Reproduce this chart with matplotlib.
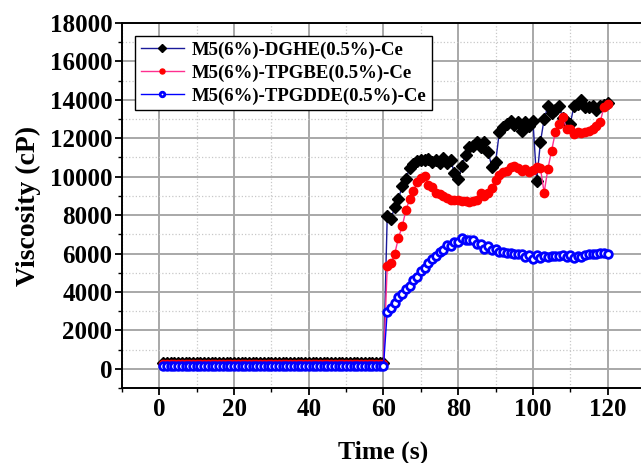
import matplotlib
matplotlib.use("Agg")
import matplotlib.pyplot as plt
from matplotlib.ticker import MultipleLocator

plt.rcParams['font.family'] = ['Liberation Serif', 'DejaVu Serif']
plt.rcParams['font.weight'] = 'bold'

# ---- data ----
time_s = list(range(1, 121))

labels = ["M5(6%)-DGHE(0.5%)-Ce", "M5(6%)-TPGBE(0.5%)-Ce", "M5(6%)-TPGDDE(0.5%)-Ce"]

dghe_flat = [300, 300, 300, 300, 300, 300, 300, 300, 300, 300,
             300, 300, 300, 300, 300, 300, 300, 300, 300, 300,
             300, 300, 300, 300, 300, 300, 300, 300, 300, 300,
             300, 300, 300, 300, 300, 300, 300, 300, 300, 300,
             300, 300, 300, 300, 300, 300, 300, 300, 300, 300,
             300, 300, 300, 300, 300, 300, 300, 300, 300, 300]
dghe_rise = [7950, 7780, 8420, 8830, 9520, 9870, 10450, 10650, 10800, 10860,
             10860, 10920, 10740, 10860, 10690, 10990, 10690, 10860, 10170, 9870,
             10570, 11150, 11530, 11620, 11790, 11530, 11790, 11300, 10520, 10740,
             12310, 12580, 12750, 12920, 12710, 12840, 12400, 12840, 12620, 12920,
             9790, 11790, 13000, 13660, 13310, 13480, 13660, 13060, 12840, 12750,
             13700, 13800, 14000, 13620, 13620, 13680, 13450, 13700, 13750, 13850]

tpgbe_flat = [250, 250, 250, 250, 250, 250, 250, 250, 250, 250,
              250, 250, 250, 250, 250, 250, 250, 250, 250, 250,
              250, 250, 250, 250, 250, 250, 250, 250, 250, 250,
              250, 250, 250, 250, 250, 250, 250, 250, 250, 250,
              250, 250, 250, 250, 250, 250, 250, 250, 250, 250,
              250, 250, 250, 250, 250, 250, 250, 250, 250, 250]
tpgbe_rise = [5340, 5510, 5980, 6820, 7410, 8250, 8830, 9260, 9700, 9920,
              10010, 9580, 9470, 9170, 9090, 9000, 8880, 8780, 8800, 8780,
              8740, 8720, 8670, 8720, 8780, 9170, 9000, 9170, 9400, 9820,
              10100, 10220, 10310, 10480, 10570, 10450, 10310, 10400, 10220, 10340,
              10520, 10450, 9170, 10400, 11360, 12310, 12750, 13130, 12490, 12490,
              12220, 12310, 12260, 12310, 12400, 12490, 12660, 12840, 13620, 13800]

tpgdde_flat = [150, 150, 150, 150, 150, 150, 150, 150, 150, 150,
               150, 150, 150, 150, 150, 150, 150, 150, 150, 150,
               150, 150, 150, 150, 150, 150, 150, 150, 150, 150,
               150, 150, 150, 150, 150, 150, 150, 150, 150, 150,
               150, 150, 150, 150, 150, 150, 150, 150, 150, 150,
               150, 150, 150, 150, 150, 150, 150, 150, 150, 150]
tpgdde_rise = [2980, 3190, 3450, 3720, 3900, 4170, 4330, 4600, 4780, 5080,
               5250, 5500, 5690, 5880, 6090, 6160, 6440, 6380, 6590, 6590,
               6790, 6700, 6700, 6680, 6510, 6470, 6260, 6380, 6160, 6260,
               6070, 6070, 6020, 6020, 5980, 5980, 5950, 5840, 5910, 5740,
               5910, 5760, 5860, 5840, 5880, 5860, 5860, 5910, 5810, 5910,
               5760, 5880, 5820, 5910, 5950, 6000, 6000, 6020, 6050, 6000]

dghe = dghe_flat + dghe_rise
tpgbe = tpgbe_flat + tpgbe_rise
tpgdde = tpgdde_flat + tpgdde_rise

x_ticks = [0, 20, 40, 60, 80, 100, 120]
y_ticks = [0, 2000, 4000, 6000, 8000, 10000, 12000, 14000, 16000, 18000]

# ---- figure ----
W, H = 641, 463
fig = plt.figure(figsize=(W / 100, H / 100), dpi=100)
left_px, right_px, top_px, bot_px = 122, 645, 23, 388
ax = fig.add_axes([left_px / W, 1 - bot_px / H, (right_px - left_px) / W, (bot_px - top_px) / H])

ax.plot(time_s, dghe, color='#1a1a9a', lw=1.0, marker='D', ms=6.5,
        mfc='black', mec='black', label=labels[0], zorder=3)
ax.plot(time_s, tpgbe, color='#ff2f8f', lw=1.0, marker='o', ms=6,
        mfc='red', mec='red', label=labels[1], zorder=4)
ax.plot(time_s, tpgdde, color='#0000ff', lw=1.0, marker='o', ms=5.5,
        mfc='white', mec='#0000ff', mew=2.0, label=labels[2], zorder=5)

ax.set_xlim(-10, 130)
ax.set_ylim(-1000, 18000)
ax.set_xticks(x_ticks)
ax.set_yticks(y_ticks)
ax.xaxis.set_minor_locator(MultipleLocator(10))
ax.yaxis.set_minor_locator(MultipleLocator(1000))

ax.grid(True, which='major', color='#a8a8a8', lw=1.4, ls='-', zorder=0)
ax.grid(True, which='minor', color='#c8c8c8', lw=0.9, ls=':', zorder=0)
ax.set_axisbelow(True)

for s in ['left', 'bottom', 'top', 'right']:
    ax.spines[s].set_linewidth(1.4)

ax.tick_params(which='major', direction='out', length=5, width=1.3,
               labelsize=18, pad=2)
ax.tick_params(which='minor', direction='out', length=3, width=1.0)
for lab in ax.get_xticklabels() + ax.get_yticklabels():
    lab.set_fontweight('bold')

ax.set_xlabel('Time (s)', fontsize=18.5, fontweight='bold', labelpad=14)
ax.set_ylabel('Viscosity (cP)', fontsize=20, fontweight='bold', labelpad=6)

leg = ax.legend(loc='upper left', bbox_to_anchor=(0.025, 0.965), fontsize=13.5,
                frameon=True, fancybox=False, edgecolor='black', framealpha=1,
                handlelength=2.3, handletextpad=0.4, borderpad=0.3,
                labelspacing=0.3, markerscale=0.6, borderaxespad=0)
leg.get_frame().set_linewidth(1.0)
for t in leg.get_texts():
    t.set_fontweight('bold')

fig.savefig('out.png', dpi=100)
